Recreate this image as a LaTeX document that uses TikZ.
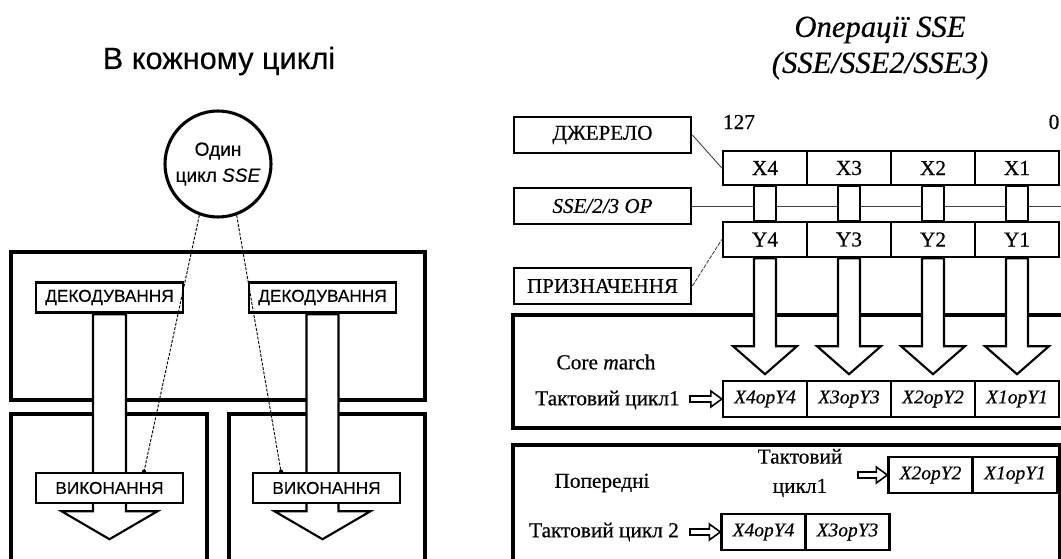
\documentclass[tikz,border=0pt]{standalone}
\usepackage{fontspec}
\setmainfont{Liberation Serif}[FakeBold=0.5]
\setsansfont{Liberation Sans}[FakeBold=0.3]
\usetikzlibrary{calc}
\pgfdeclarelayer{back}
\pgfdeclarelayer{mid}
\pgfsetlayers{back,mid,main}
\newcommand\bigarrow[5]{\draw[shaft] ($(#1)+(-#4,0)$) -- ++(0,#2) -- ++({#4-#5},0) -- ++(#5,#3) -- ++(#5,-#3) -- ++({#4-#5},0) -- ++(0,-#2) -- cycle;}
\newcommand\hollowarrow[2]{\draw[harr] ($(#1)+(0,-3)$) -- ($(#2)+(-11,-3)$) -- ($(#2)+(-11,-8)$) -- (#2) -- ($(#2)+(-11,8)$) -- ($(#2)+(-11,3)$) -- ($(#1)+(0,3)$) -- cycle;}
\tikzset{
  container/.style={draw, line width=2.3pt},
  shaft/.style={draw, fill=white, line width=1.6pt, line join=miter},
  harr/.style={draw, fill=white, line width=1.2pt},
  sbox/.style={draw, fill=white, line width=2.1pt, inner sep=0pt, minimum width=110.25pt, minimum height=23pt,
     font=\sffamily\fontsize{12.9pt}{15pt}\selectfont},
  lbl/.style={draw, fill=white, line width=2.1pt, inner sep=0pt, minimum width=132.75pt, minimum height=27pt,
     font=\fontsize{15.8pt}{18pt}\selectfont},
  cell/.style={draw, fill=white, line width=1.8pt, inner sep=0pt, minimum width=63pt, minimum height=25.5pt,
     font=\fontsize{16pt}{18pt}\selectfont},
  rcell/.style={cell, minimum height=27pt, font=\itshape\fontsize{14.6pt}{18pt}\selectfont},
  txt/.style={inner sep=0pt, font=\fontsize{16pt}{18pt}\selectfont},
  dline/.style={line width=0.7pt, dash pattern=on 2.2pt off 1.1pt},
  thinline/.style={line width=0.6pt, black!80},
}
\begin{document}
\begin{tikzpicture}[x=0.75pt, y=-0.75pt]
\useasboundingbox (0,0) rectangle (1061,559);
\clip (0,0) rectangle (1061,559);

% ---------------- left part ----------------
\node[anchor=base, inner sep=0pt, font=\sffamily\fontsize{23pt}{27pt}\selectfont] (ltitle) at (219,69) {В кожному циклі};
\node[circle, draw, fill=white, line width=2.3pt, minimum size=79.5pt, inner sep=0pt, align=center,
      font=\sffamily\fontsize{14.3pt}{19.5pt}\selectfont] (circ) at (218,164) {Один\\цикл \textit{SSE}};

\node[sbox] (decL) at (109.5,297.5) {ДЕКОДУВАННЯ};
\node[sbox] (decR) at (322.5,297.5) {ДЕКОДУВАННЯ};
\node[sbox, minimum height=22.5pt] (exL) at (109.5,488) {ВИКОНАННЯ};
\node[sbox, minimum height=22.5pt] (exR) at (326.5,488) {ВИКОНАННЯ};

% ---------------- right part ----------------
\node[align=center, inner sep=0pt, font=\itshape\fontsize{23pt}{27pt}\selectfont] (rtitle) at (880,48) {Операції SSE\\(SSE/SSE2/SSE3)};

\node[lbl] (jer) at (602.5,135) {ДЖЕРЕЛО};
\node[lbl, font=\itshape\fontsize{15.8pt}{18pt}\selectfont] (op) at (602.5,206) {SSE/2/3 OP};
\node[lbl] (dst) at (602.5,286) {ПРИЗНАЧЕННЯ};

\node[txt] (b127) at (739,122) {127};
\node[txt] (b0) at (1054,122) {0};

\node[cell] (x4) at (765,168) {X4};
\node[cell] (x3) at (849,168) {X3};
\node[cell] (x2) at (933,168) {X2};
\node[cell] (x1) at (1017,168) {X1};
\node[cell, minimum height=26.25pt] (y4) at (765,239.5) {Y4};
\node[cell, minimum height=26.25pt] (y3) at (849,239.5) {Y3};
\node[cell, minimum height=26.25pt] (y2) at (933,239.5) {Y2};
\node[cell, minimum height=26.25pt] (y1) at (1017,239.5) {Y1};

\node[rcell] (r4) at (765,399) {X4opY4};
\node[rcell] (r3) at (849,399) {X3opY3};
\node[rcell] (r2) at (933,399) {X2opY2};
\node[rcell] (r1) at (1017,399) {X1opY1};

\node[txt] (cm) at (606,362) {Core \textit{m}arch};
\node[txt] (t1) at (607.5,400) {Тактовий цикл1};
\node[txt] (prev) at (602,483) {Попередні};
\node[txt, align=center, font=\fontsize{16pt}{22pt}\selectfont] (t1b) at (800,473) {Тактовий\\цикл1};
\node[txt] (t2) at (604,532) {Тактовий цикл 2};

\node[rcell] (p2) at (930.5,475) {X2opY2};
\node[rcell] (p1) at (1015,475) {X1opY1};
\node[rcell] (q4) at (763.5,532) {X4opY4};
\node[rcell] (q3) at (847.5,532) {X3opY3};

\coordinate (opend) at (1075,206);
\coordinate (a1s) at (690,399);
\coordinate (a2s) at (858,475);
\coordinate (a3s) at (690,532);
\coordinate (dL) at ($(exL.north)+(34.5,0)$);
\coordinate (dR) at ($(exR.north)+(-45.5,0)$);

% connectors
\draw[thinline] (jer.east) -- (x4.west);
\draw[thinline, dash pattern=on 3pt off 1pt] (dst.east) -- (y4.west);
\draw[dline] (circ.250) -- (dL);
\draw[dline] (circ.290) -- (dR);
\fill (dL) circle (1.6pt);
\fill (dR) circle (1.6pt);
\hollowarrow{a1s}{r4.west}
\hollowarrow{a2s}{p2.west}
\hollowarrow{a3s}{q4.west}

\begin{pgfonlayer}{back}
\clip (0,0) rectangle (1061,559);
\draw[container] (11,252) rectangle (425,400);
\draw[container] (11,414) rectangle (207,600);
\draw[container] (229,414) rectangle (425,600);
\draw[container] (513,315) rectangle (1090,428);
\draw[container] (513,445) rectangle (1060,600);
\draw[line width=0.7pt, black!75] (op.east) -- (opend);
\end{pgfonlayer}

\begin{pgfonlayer}{mid}
\clip (0,0) rectangle (1061,559);
\bigarrow{decL.south}{197}{28}{16.5}{48}
\bigarrow{decR.south}{197}{28}{16}{48}
\foreach \c in {4,3,2,1}{
  \draw[shaft] ($(x\c.south)+(-11,0)$) rectangle ($(y\c.north)+(11,0)$);
  \bigarrow{y\c.south}{88}{28}{11}{32}
}
\end{pgfonlayer}
\end{tikzpicture}
\end{document}
